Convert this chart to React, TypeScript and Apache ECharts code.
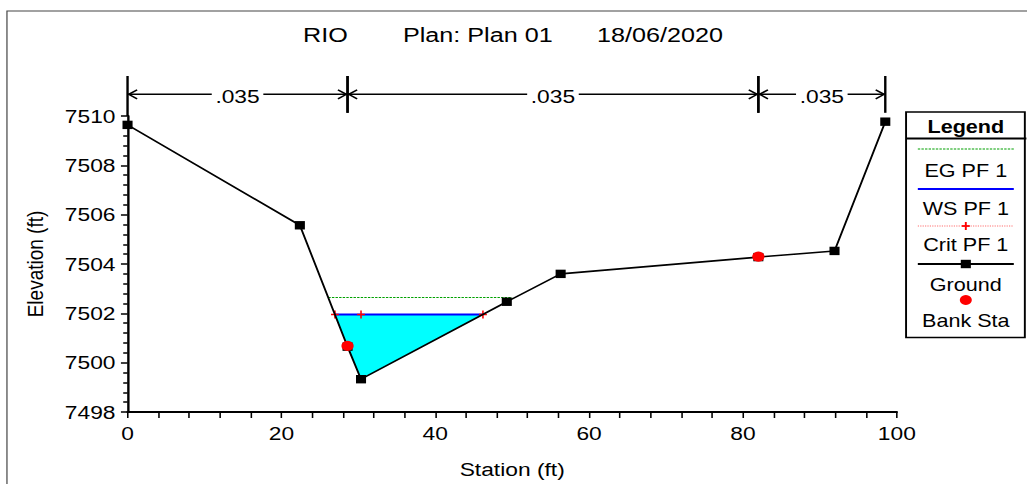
import React, { useEffect, useRef } from "react";
import * as echarts from "echarts";

// ---- data ----
const groundStation = [0, 22.4, 28.6, 30.35, 49.3, 56.3, 82.0, 91.9, 98.5];
const groundElev = [7509.64, 7505.57, 7500.65, 7499.33, 7502.47, 7503.6, 7504.28, 7504.53, 7509.77];
const bankStation = [28.6, 82.0];
const bankElev = [7500.68, 7504.3];
const wsStation = [26.96, 46.2];
const wsElev = [7501.95, 7501.95];
const egStation = [26.1, 50.0];
const egElev = [7502.64, 7502.64];
const critStation = [26.96, 30.35, 46.2];
const critElev = [7501.95, 7501.95, 7501.95];
const waterStation = [26.96, 28.6, 30.35, 46.2];
const waterElev = [7501.95, 7500.65, 7499.33, 7501.95];
const bandEdges = [0, 28.6, 82.0, 98.5];
const manningN = [".035", ".035", ".035"];
const titleParts = ["RIO", "Plan: Plan 01", "18/06/2020"];
const legendTitle = "Legend";
const legendLabels = ["EG PF 1", "WS PF 1", "Crit PF 1", "Ground", "Bank Sta"];
const xAxisName = "Station (ft)";
const yAxisName = "Elevation (ft)";

// ---- layout ----
const CW = 856;
const CH = 484;
const SCALE_X = 1027 / CW;
const FONT = "'Liberation Sans', Arial, Helvetica, sans-serif";

const zip = (xs: number[], ys: number[]) => xs.map((x, i) => [x, ys[i]]);

const ARROW_Y = 0.5425;
const TEXT_Y = 0.49;
const TICK_BOTTOM = 0.08;
const PLUS_PATH = "path://M4,0H6V4H10V6H6V10H4V6H0V4H4Z";

function buildOption() {
  const bands = bandEdges.slice(0, -1).map((s, i) => [s, bandEdges[i + 1], i]);

  const legendX = 805;
  const lx0 = 765;
  const lx1 = 845;
  const txt = (text: string, x: number, y: number, size: number, bold = false, align = "center") => ({
    type: "text",
    x,
    y,
    z: 100,
    style: {
      text,
      fontSize: size,
      fontFamily: FONT,
      fontWeight: bold ? "bold" : "normal",
      fill: "#000",
      align,
      verticalAlign: "middle",
    },
  });

  const graphic: any[] = [
    {
      type: "rect",
      z: 0,
      shape: { x: 5.8, y: 11, width: 1000, height: 600 },
      style: { fill: "none", stroke: "#444", lineWidth: 1 },
    },
    txt(titleParts[0], 252.5, 34.3, 21, false, "left"),
    txt(titleParts[1], 335.8, 34.3, 21, false, "left"),
    txt(titleParts[2], 497.5, 34.3, 21, false, "left"),
    // legend box
    {
      type: "rect",
      z: 90,
      shape: { x: 755.2, y: 112, width: 99, height: 225.5 },
      style: { fill: "#fff", stroke: "#000", lineWidth: 1.6 },
    },
    {
      type: "line",
      z: 91,
      shape: { x1: 755.2, y1: 138.5, x2: 855.5, y2: 138.5 },
      style: { stroke: "#000", lineWidth: 2 },
    },
    txt(legendTitle, legendX, 126.5, 18, true),
    // EG
    {
      type: "line",
      z: 95,
      shape: { x1: lx0, y1: 149, x2: lx1, y2: 149 },
      style: { stroke: "#00A000", lineWidth: 1, lineDash: [2, 1] },
    },
    txt(legendLabels[0], legendX, 170.5, 18),
    // WS
    {
      type: "line",
      z: 95,
      shape: { x1: lx0, y1: 189, x2: lx1, y2: 189 },
      style: { stroke: "#0000FF", lineWidth: 2 },
    },
    txt(legendLabels[1], legendX, 209, 18),
    // Crit
    {
      type: "line",
      z: 95,
      shape: { x1: lx0, y1: 226, x2: lx1, y2: 226 },
      style: { stroke: "#FF7070", lineWidth: 1, lineDash: [1, 1] },
    },
    {
      type: "line",
      z: 96,
      shape: { x1: legendX - 3.3, y1: 226, x2: legendX + 3.3, y2: 226 },
      style: { stroke: "#FF0000", lineWidth: 1.8 },
    },
    {
      type: "line",
      z: 96,
      shape: { x1: legendX, y1: 222, x2: legendX, y2: 230 },
      style: { stroke: "#FF0000", lineWidth: 1.6 },
    },
    txt(legendLabels[2], legendX, 245, 18),
    // Ground
    {
      type: "line",
      z: 95,
      shape: { x1: lx0, y1: 264, x2: lx1, y2: 264 },
      style: { stroke: "#000", lineWidth: 2 },
    },
    {
      type: "rect",
      z: 96,
      shape: { x: legendX - 4.2, y: 259.8, width: 8.4, height: 8.4 },
      style: { fill: "#000" },
    },
    txt(legendLabels[3], legendX, 284.3, 18),
    // Bank
    {
      type: "circle",
      z: 96,
      shape: { cx: legendX, cy: 300, r: 5 },
      style: { fill: "#FF0000" },
    },
    txt(legendLabels[4], legendX, 321, 18),
  ];

  const axisLineStyle = { color: "#000", width: 2 };

  return {
    animation: false,
    backgroundColor: "#fff",
    grid: [
      { left: 106.3, right: 108.5, top: 116, bottom: 68 },
      { left: 106.3, right: 108.5, top: 76, height: 40 },
    ],
    xAxis: [
      {
        gridIndex: 0,
        type: "value",
        min: 0,
        max: 100,
        interval: 20,
        axisLine: { show: true, onZero: false, lineStyle: axisLineStyle },
        axisTick: { show: true, length: 6, lineStyle: { color: "#000", width: 1.3 } },
        minorTick: { show: true, splitNumber: 5, length: 6, lineStyle: { color: "#000", width: 1.3 } },
        splitLine: { show: false },
        minorSplitLine: { show: false },
        axisLabel: { fontSize: 19, fontFamily: FONT, color: "#000", margin: 12, formatter: (v: number) => String(v) },
        name: xAxisName,
        nameLocation: "middle",
        nameGap: 48,
        nameTextStyle: { fontSize: 19, fontFamily: FONT, color: "#000" },
      },
      { gridIndex: 1, type: "value", min: 0, max: 100, show: false },
    ],
    yAxis: [
      {
        gridIndex: 0,
        type: "value",
        min: 7498,
        max: 7510,
        interval: 2,
        axisLine: { show: true, onZero: false, lineStyle: axisLineStyle },
        axisTick: { show: true, length: 5.5, lineStyle: { color: "#000", width: 1.5 } },
        minorTick: { show: true, splitNumber: 5, length: 3.6, lineStyle: { color: "#000", width: 1.5 } },
        splitLine: { show: false },
        minorSplitLine: { show: false },
        axisLabel: { fontSize: 19, fontFamily: FONT, color: "#000", margin: 10, formatter: (v: number) => String(v) },
        name: yAxisName,
        nameLocation: "middle",
        nameGap: 68,
        nameRotate: 90,
        nameTextStyle: { fontSize: 19, fontFamily: FONT, color: "#000" },
      },
      { gridIndex: 1, type: "value", min: 0, max: 1, show: false },
    ],
    graphic,
    series: [
      {
        type: "custom",
        name: "water",
        xAxisIndex: 0,
        yAxisIndex: 0,
        encode: { x: 0, y: 1 },
        data: zip(waterStation, waterElev),
        z: 1,
        renderItem: (params: any, api: any) => {
          if (params.dataIndex !== 0) return null;
          const points = waterStation.map((x, i) => api.coord([x, waterElev[i]]));
          return { type: "polygon", shape: { points }, style: { fill: "#00FFFF" } };
        },
      },
      {
        type: "line",
        name: legendLabels[0],
        data: zip(egStation, egElev),
        showSymbol: false,
        z: 2,
        lineStyle: { color: "#00A000", width: 1, type: [2, 1] },
      },
      {
        type: "line",
        name: legendLabels[2],
        data: zip(critStation, critElev),
        showSymbol: false,
        z: 3,
        lineStyle: { color: "#FF4040", width: 1, type: [1, 1] },
      },
      {
        type: "line",
        name: legendLabels[1],
        data: zip(wsStation, wsElev),
        showSymbol: false,
        z: 4,
        lineStyle: { color: "#0000FF", width: 2 },
      },
      {
        type: "scatter",
        name: legendLabels[2] + " points",
        data: zip(critStation, critElev),
        symbol: PLUS_PATH,
        symbolSize: [6.5, 8],
        z: 5,
        itemStyle: { color: "#FF0000", opacity: 1 },
      },
      {
        type: "line",
        name: legendLabels[3],
        data: zip(groundStation, groundElev),
        symbol: "rect",
        symbolSize: 8.4,
        z: 6,
        itemStyle: { color: "#000" },
        lineStyle: { color: "#000", width: 1.6 },
      },
      {
        type: "scatter",
        name: legendLabels[4],
        data: zip(bankStation, bankElev),
        symbol: "circle",
        symbolSize: 10.2,
        z: 7,
        itemStyle: { color: "#FF0000", opacity: 1 },
      },
      {
        type: "custom",
        name: "n values",
        xAxisIndex: 1,
        yAxisIndex: 1,
        encode: { x: [0, 1] },
        data: bands,
        z: 8,
        renderItem: (params: any, api: any) => {
          const i = params.dataIndex;
          const s = api.value(0);
          const e = api.value(1);
          const top = api.coord([s, 1])[1];
          const botS = api.coord([s, i === 0 ? 0 : TICK_BOTTOM])[1];
          const botE = api.coord([e, TICK_BOTTOM])[1];
          const xa = api.coord([s, ARROW_Y])[0];
          const xb = api.coord([e, ARROW_Y])[0];
          const ya = api.coord([s, ARROW_Y])[1];
          const yt = api.coord([s, TEXT_Y])[1];
          const AH = 8;
          const AW = 4.5;
          const stroke = { stroke: "#000", lineWidth: 1.5, fill: null };
          return {
            type: "group",
            children: [
              { type: "line", shape: { x1: xa, y1: top, x2: xa, y2: botS }, style: { stroke: "#000", lineWidth: 2 } },
              { type: "line", shape: { x1: xb, y1: top, x2: xb, y2: botE }, style: { stroke: "#000", lineWidth: 2 } },
              { type: "line", shape: { x1: xa, y1: ya, x2: xb, y2: ya }, style: { stroke: "#000", lineWidth: 1.5 } },
              {
                type: "polyline",
                shape: { points: [[xa + AH, ya - AW], [xa + 1, ya], [xa + AH, ya + AW]] },
                style: stroke,
              },
              {
                type: "polyline",
                shape: { points: [[xb - AH, ya - AW], [xb - 1, ya], [xb - AH, ya + AW]] },
                style: stroke,
              },
              {
                type: "text",
                x: (xa + xb) / 2,
                y: yt,
                style: {
                  text: manningN[i],
                  fontSize: 19,
                  fontFamily: FONT,
                  fill: "#000",
                  align: "center",
                  verticalAlign: "middle",
                  backgroundColor: "#fff",
                  padding: [0, 3],
                },
              },
            ],
          };
        },
      },
    ],
  };
}

export default function App() {
  const ref = useRef<HTMLDivElement>(null);
  useEffect(() => {
    document.body.style.overflow = "hidden";
    const chart = echarts.init(ref.current as HTMLDivElement, undefined, { renderer: "svg" });
    chart.setOption(buildOption() as any);
    return () => chart.dispose();
  }, []);
  return (
    <div
      ref={ref}
      style={{
        position: "absolute",
        left: 0,
        top: 0,
        width: CW,
        height: CH,
        transform: `scaleX(${SCALE_X})`,
        transformOrigin: "0 0",
        background: "#fff",
      }}
    />
  );
}
